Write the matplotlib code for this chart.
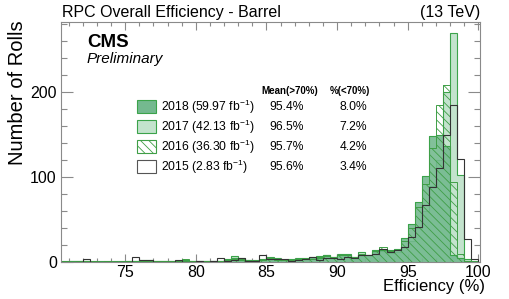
import numpy as np
import matplotlib
matplotlib.use("Agg")
import matplotlib.pyplot as plt
from matplotlib.patches import Rectangle
from matplotlib.ticker import MultipleLocator

plt.rcParams['font.family'] = ['Liberation Sans', 'DejaVu Sans']
plt.rcParams['mathtext.fontset'] = 'custom'
plt.rcParams['mathtext.rm'] = 'Liberation Sans'
plt.rcParams['hatch.linewidth'] = 0.6

# ---- data ----
bin_lo = 70.0
bin_hi = 100.0
bin_width = 0.5

counts_2018 = [0, 1, 1, 2, 1, 1, 0, 1, 0, 1,
               1, 1, 2, 3, 2, 1, 1, 1, 2, 2,
               2, 1, 2, 2, 3, 5, 3, 3, 2, 3,
               4, 3, 3, 4, 4, 5, 6, 5, 8, 6,
               9, 8, 6, 9, 9, 14, 15, 14, 16, 29,
               45, 71, 101, 148, 150, 137, 8, 5, 1, 0]
counts_2017 = [0, 0, 1, 1, 1, 0, 1, 0, 1, 0,
               1, 1, 3, 2, 2, 2, 1, 1, 3, 1,
               2, 2, 2, 2, 4, 7, 5, 3, 3, 4,
               6, 5, 3, 3, 5, 4, 5, 7, 9, 6,
               10, 10, 6, 12, 9, 12, 13, 11, 12, 18,
               25, 40, 60, 90, 120, 200, 270, 103, 4, 1]
counts_2016 = [0, 1, 0, 1, 1, 1, 0, 1, 0, 0,
               1, 0, 1, 2, 1, 1, 1, 1, 4, 2,
               1, 2, 1, 2, 3, 4, 4, 2, 2, 3,
               5, 4, 3, 3, 4, 5, 4, 6, 7, 6,
               8, 9, 6, 10, 8, 13, 18, 13, 15, 25,
               40, 65, 92, 135, 185, 209, 95, 10, 2, 0]
counts_2015 = [0, 0, 0, 0, 4, 0, 0, 0, 0, 0,
               0, 6, 3, 3, 0, 0, 0, 3, 0, 0,
               1, 0, 2, 5, 2, 3, 5, 2, 2, 8,
               4, 4, 4, 2, 3, 4, 6, 3, 5, 5,
               4, 6, 5, 8, 8, 10, 16, 12, 14, 18,
               30, 42, 67, 89, 111, 150, 185, 121, 27, 4]

labels = ["2018 (59.97 fb$^{-1}$)", "2017 (42.13 fb$^{-1}$)",
          "2016 (36.30 fb$^{-1}$)", "2015 (2.83 fb$^{-1}$)"]
mean_above = ["95.4%", "96.5%", "95.7%", "95.6%"]
frac_below = ["8.0%", "7.2%", "4.2%", "3.4%"]

edges = np.arange(bin_lo, bin_hi + bin_width / 2, bin_width)

# ---- styles ----
c18 = '#74b98f'
c17 = '#c3e3cd'
green_edge = '#3ba34a'
hatch_col = '#3f9e46'
frame = '#8a8a8a'

fig = plt.figure(figsize=(5.10, 2.99), dpi=100)
ax = fig.add_axes([61 / 510, 1 - 262.3 / 299, 419 / 510, 240.3 / 299])

ax.stairs(counts_2017, edges, fill=True, color=c17, zorder=1)
ax.stairs(counts_2017, edges, fill=False, color=green_edge, lw=0.8, zorder=1.1)
ax.stairs(counts_2018, edges, fill=True, color=c18, alpha=0.9, zorder=2)
ax.stairs(counts_2018, edges, fill=False, color=green_edge, lw=0.8, zorder=2.1)
ax.stairs(counts_2016, edges, fill=True, facecolor='none', edgecolor=hatch_col,
          hatch='\\\\\\\\', lw=0, zorder=3)
ax.stairs(counts_2016, edges, fill=False, color=hatch_col, lw=0.7, zorder=3.1)
ax.stairs(counts_2015, edges, fill=False, color='#333333', lw=0.8, zorder=4)

ax.set_xlim(70.45, 100.12)
ax.set_ylim(0, 282.7)

for s in ax.spines.values():
    s.set_color(frame)
    s.set_linewidth(0.8)

ax.xaxis.set_major_locator(MultipleLocator(5))
ax.xaxis.set_minor_locator(MultipleLocator(1))
ax.yaxis.set_major_locator(MultipleLocator(100))
ax.yaxis.set_minor_locator(MultipleLocator(20))
ax.tick_params(axis='both', which='both', direction='in', top=True, right=True,
               color=frame, width=0.8, labelsize=11.5, labelcolor='black')
ax.tick_params(axis='x', which='major', length=5.8, pad=2)
ax.tick_params(axis='x', which='minor', length=2.9)
ax.tick_params(axis='y', which='major', length=8.6, pad=3)
ax.tick_params(axis='y', which='minor', length=4.3)

# titles
fig.text(62 / 510, 1 - 13 / 299, "RPC Overall Efficiency - Barrel", fontsize=11.5,
         ha='left', va='center')
fig.text(480 / 510, 1 - 13 / 299, "(13 TeV)", fontsize=11.5, ha='right', va='center')
ax.set_ylabel("Number of Rolls", fontsize=14.5, va='center')
ax.yaxis.set_label_coords(-0.105, 0.705)
ax.set_xlabel("Efficiency (%)", fontsize=12, va='center', ha='right')
ax.xaxis.set_label_coords(1.012, -0.1)

ax.text(0.062, 0.915, "CMS", fontsize=13.5, fontweight='bold', transform=ax.transAxes,
        ha='left', va='center')
ax.text(0.062, 0.845, "Preliminary", fontsize=11, style='italic', transform=ax.transAxes,
        ha='left', va='center')

# legend / stats table
row_y = [0.6475, 0.5643, 0.481, 0.398]
box_w = 19.3 / 419
box_h = 13.3 / 240.3
ax.text(0.5465, 0.714, "Mean(>70%)", fontsize=7, fontweight='bold',
        transform=ax.transAxes, ha='center', va='center')
ax.text(0.69, 0.714, "%(<70%)", fontsize=7, fontweight='bold',
        transform=ax.transAxes, ha='center', va='center')
styles = [dict(facecolor=c18, edgecolor=green_edge),
          dict(facecolor=c17, edgecolor=green_edge),
          dict(facecolor='white', edgecolor=hatch_col, hatch='\\\\\\\\'),
          dict(facecolor='white', edgecolor='#555555')]
for i in range(4):
    ax.add_patch(Rectangle((0.181, row_y[i] - box_h / 2), box_w, box_h,
                           transform=ax.transAxes, lw=0.8, zorder=5, **styles[i]))
    ax.text(0.238, row_y[i], labels[i], fontsize=8.7, transform=ax.transAxes,
            ha='left', va='center', zorder=5)
    ax.text(0.58, row_y[i], mean_above[i], fontsize=8.7, transform=ax.transAxes,
            ha='right', va='center', zorder=5)
    ax.text(0.7296, row_y[i], frac_below[i], fontsize=8.7, transform=ax.transAxes,
            ha='right', va='center', zorder=5)

fig.savefig("out.png", dpi=100)
